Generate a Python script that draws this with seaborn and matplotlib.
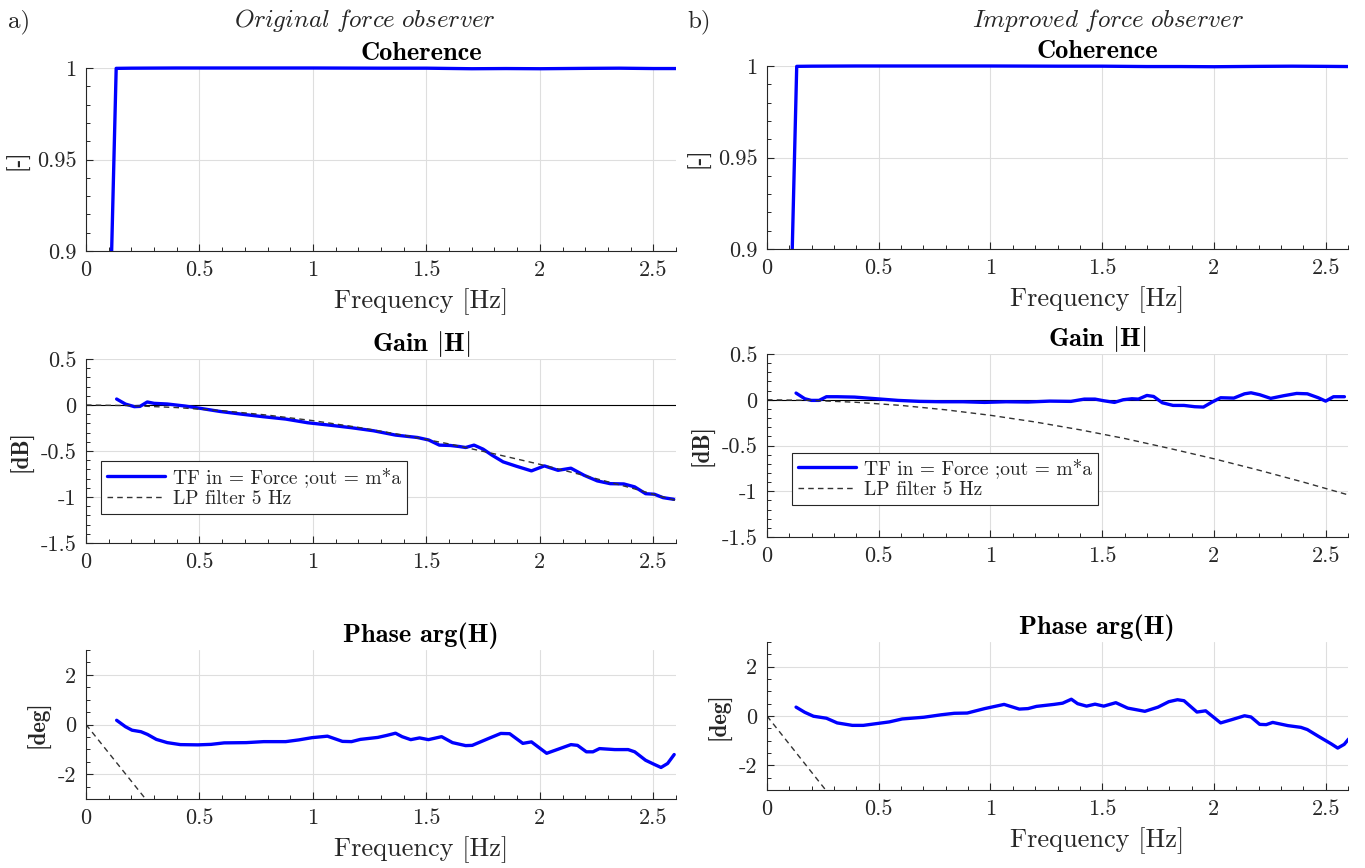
import numpy as np
import pandas as pd
import seaborn as sns
import matplotlib.pyplot as plt
from matplotlib.patches import Rectangle
from matplotlib.ticker import MultipleLocator, FuncFormatter

# values
coh_f = [0.109, 0.133, 0.20, 0.40, 0.70, 1.00, 1.30, 1.50, 1.70, 1.85, 2.00, 2.20, 2.35, 2.50, 2.60]
coh_orig = [0.88, 0.9998, 0.9999, 1.0, 1.0, 1.0, 0.9999, 0.9999, 0.9996, 0.9997, 0.9996, 0.9998, 0.9999, 0.9997, 0.9997]
coh_impr = [0.88, 0.9998, 0.9999, 1.0, 1.0, 1.0, 0.9999, 0.9999, 0.9997, 0.9997, 0.9996, 0.9998, 0.9999, 0.9998, 0.9997]

gain_orig_f = [0.135, 0.174, 0.213, 0.238, 0.27, 0.30, 0.358, 0.435, 0.503, 0.59, 0.687, 0.78, 0.88,
               0.977, 1.07, 1.17, 1.267, 1.364, 1.46, 1.51, 1.557, 1.605, 1.644, 1.673, 1.71, 1.75,
               1.789, 1.838, 1.896, 1.963, 2.02, 2.08, 2.137, 2.195, 2.253, 2.31, 2.37, 2.418, 2.466,
               2.505, 2.543, 2.59]
gain_orig = [0.065, 0.01, -0.018, -0.015, 0.033, 0.018, 0.011, -0.011, -0.036, -0.07, -0.10, -0.127,
             -0.153, -0.193, -0.218, -0.247, -0.28, -0.327, -0.353, -0.38, -0.436, -0.44, -0.451,
             -0.462, -0.436, -0.48, -0.545, -0.618, -0.665, -0.716, -0.662, -0.71, -0.687, -0.764,
             -0.825, -0.855, -0.858, -0.89, -0.964, -0.97, -1.007, -1.025]

gain_impr_f = [0.13, 0.169, 0.198, 0.233, 0.266, 0.314, 0.392, 0.489, 0.586, 0.683, 0.78, 0.877, 0.974,
               1.07, 1.168, 1.265, 1.36, 1.42, 1.468, 1.507, 1.555, 1.594, 1.633, 1.662, 1.70, 1.73,
               1.769, 1.817, 1.866, 1.914, 1.953, 1.992, 2.03, 2.089, 2.137, 2.166, 2.205, 2.254,
               2.312, 2.37, 2.418, 2.467, 2.50, 2.535, 2.584]
gain_impr = [0.073, 0.011, -0.007, -0.007, 0.033, 0.033, 0.029, 0.011, -0.007, -0.018, -0.022, -0.022,
             -0.029, -0.022, -0.025, -0.015, -0.018, 0.007, 0.007, -0.011, -0.029, 0.0, 0.011, 0.007,
             0.047, 0.036, -0.033, -0.062, -0.062, -0.076, -0.08, -0.025, 0.022, 0.018, 0.065, 0.076,
             0.055, 0.015, 0.044, 0.069, 0.065, 0.022, -0.015, 0.033, 0.033]

phase_orig_f = [0.135, 0.174, 0.203, 0.242, 0.271, 0.31, 0.358, 0.416, 0.493, 0.551, 0.609, 0.706, 0.783,
                0.88, 0.938, 0.996, 1.064, 1.13, 1.17, 1.209, 1.286, 1.325, 1.364, 1.393, 1.431, 1.47,
                1.509, 1.567, 1.615, 1.673, 1.702, 1.741, 1.78, 1.828, 1.867, 1.925, 1.963, 2.03, 2.079,
                2.137, 2.166, 2.205, 2.234, 2.263, 2.33, 2.389, 2.418, 2.466, 2.505, 2.534, 2.563, 2.592]
phase_orig = [0.17, -0.09, -0.23, -0.29, -0.40, -0.60, -0.73, -0.81, -0.82, -0.80, -0.74, -0.73, -0.69,
              -0.69, -0.62, -0.53, -0.47, -0.68, -0.69, -0.60, -0.52, -0.44, -0.35, -0.49, -0.61, -0.54,
              -0.61, -0.49, -0.73, -0.85, -0.84, -0.69, -0.54, -0.36, -0.37, -0.76, -0.70, -1.16, -1.00,
              -0.81, -0.84, -1.10, -1.10, -0.97, -1.01, -1.01, -1.10, -1.44, -1.61, -1.73, -1.57, -1.21]

phase_impr_f = [0.13, 0.169, 0.208, 0.266, 0.314, 0.382, 0.431, 0.489, 0.547, 0.605, 0.702, 0.78, 0.838,
                0.896, 0.974, 1.061, 1.129, 1.168, 1.206, 1.284, 1.323, 1.362, 1.39, 1.43, 1.468, 1.507,
                1.561, 1.614, 1.691, 1.75, 1.798, 1.837, 1.866, 1.924, 1.963, 2.03, 2.079, 2.137, 2.166,
                2.205, 2.234, 2.263, 2.331, 2.389, 2.418, 2.467, 2.525, 2.554, 2.583, 2.603]
phase_impr = [0.36, 0.15, -0.01, -0.09, -0.28, -0.38, -0.38, -0.31, -0.24, -0.12, -0.05, 0.05, 0.11,
              0.12, 0.30, 0.47, 0.28, 0.30, 0.39, 0.47, 0.52, 0.68, 0.50, 0.40, 0.48, 0.40, 0.54, 0.32,
              0.19, 0.36, 0.58, 0.66, 0.62, 0.16, 0.21, -0.28, -0.15, 0.01, -0.04, -0.34, -0.35, -0.26,
              -0.39, -0.46, -0.55, -0.82, -1.13, -1.30, -1.15, -0.93]

# 5 Hz low pass reference
lp_f = [0.0, 0.2, 0.4, 0.6, 0.8, 1.0, 1.2, 1.4, 1.6, 1.8, 2.0, 2.2, 2.4, 2.6]
lp_gain = [0.0, -0.007, -0.028, -0.062, -0.110, -0.170, -0.243, -0.328, -0.423, -0.531, -0.645,
           -0.769, -0.900, -1.039]
lp_phase_f = [0.0, 0.4]
lp_phase = [0.0, -4.57]

sns.set_style('ticks')
plt.rcParams['font.family'] = 'cmr10'
plt.rcParams['mathtext.fontset'] = 'cm'
plt.rcParams['axes.unicode_minus'] = False

DARK = '#262626'
W, H = 1365, 868


def box(x0, x1, y0, y1):
    return [x0 / W, 1 - y1 / H, (x1 - x0) / W, (y1 - y0) / H]


def style(ax, ylim, ymaj, ymin):
    ax.set_xlim(0, 2.6)
    ax.set_ylim(*ylim)
    ax.xaxis.set_major_locator(MultipleLocator(0.5))
    ax.xaxis.set_minor_locator(MultipleLocator(0.1))
    ax.yaxis.set_major_locator(MultipleLocator(ymaj))
    ax.yaxis.set_minor_locator(MultipleLocator(ymin))
    fmt = FuncFormatter(lambda v, p: f'{v:g}')
    ax.xaxis.set_major_formatter(fmt)
    ax.yaxis.set_major_formatter(fmt)
    ax.tick_params(which='both', direction='in', colors=DARK, labelsize=16, pad=7)
    ax.tick_params(which='major', length=5, width=0.8)
    ax.tick_params(which='minor', length=3, width=0.7)
    ax.grid(True, which='major', color='#dedede', lw=0.8)
    ax.set_axisbelow(True)
    sns.despine(ax=ax)
    for s in ['left', 'bottom']:
        ax.spines[s].set_color(DARK)
        ax.spines[s].set_linewidth(0.8)
    if ax.get_legend() is not None:
        ax.get_legend().remove()


def title(ax, txt):
    ax.set_title(txt, fontfamily='cmb10', fontsize=19, x=0.568, pad=6, color='black')


def ylab(ax, txt):
    ax.set_ylabel(txt, fontfamily='cmb10', fontsize=16.5, color=DARK, labelpad=5)


fig = plt.figure(figsize=(W / 100, H / 100), dpi=100)

cols = [
    dict(x=(86, 676), rows=[(68, 251), (359, 543), (650, 799)],
         coh=coh_orig, gf=gain_orig_f, g=gain_orig, pf=phase_orig_f, p=phase_orig, leg=(0.025, 0.158)),
    dict(x=(767, 1348), rows=[(66, 249), (354, 537), (642, 790)],
         coh=coh_impr, gf=gain_impr_f, g=gain_impr, pf=phase_impr_f, p=phase_impr, leg=(0.043, 0.175)),
]

for c in cols:
    x0, x1 = c['x']
    # coherence
    ax = fig.add_axes(box(x0, x1, *c['rows'][0]))
    sns.lineplot(x=coh_f, y=c['coh'], ax=ax, color='blue', linewidth=2.4)
    # let the line at 1 show its full width above the top edge
    ax.lines[-1].set_clip_path(Rectangle((0, 0), 1, 1.03, transform=ax.transAxes))
    style(ax, (0.9, 1.0), 0.05, 0.01)
    title(ax, 'Coherence')
    ax.set_xlabel('Frequency [Hz]', fontsize=19, color=DARK, x=0.568, labelpad=6)
    ylab(ax, '[-]')

    # gain
    ax = fig.add_axes(box(x0, x1, *c['rows'][1]))
    ax.axhline(0, color='black', lw=0.8, zorder=1.5)
    sns.lineplot(x=c['gf'], y=c['g'], ax=ax, color='blue', linewidth=2.4,
                 label='TF in = Force ;out = m*a')
    sns.lineplot(x=lp_f, y=lp_gain, ax=ax, color='0.2', linewidth=1.0,
                 linestyle=(0, (4, 3)), label='LP filter 5 Hz')
    style(ax, (-1.5, 0.5), 0.5, 0.1)
    title(ax, r'Gain $\mathbf{|H|}$')
    ax.set_xlabel('')
    ylab(ax, '[dB]')
    leg = ax.legend(loc='lower left', bbox_to_anchor=c['leg'], borderaxespad=0, fontsize=14,
                    frameon=True, fancybox=False, framealpha=1, edgecolor=DARK,
                    handlelength=3, borderpad=0.3, labelspacing=0.15, handletextpad=0.4)
    leg.get_frame().set_linewidth(0.8)

    # phase
    ax = fig.add_axes(box(x0, x1, *c['rows'][2]))
    sns.lineplot(x=c['pf'], y=c['p'], ax=ax, color='blue', linewidth=2.4)
    sns.lineplot(x=lp_phase_f, y=lp_phase, ax=ax, color='0.2', linewidth=1.0,
                 linestyle=(0, (4, 3)))
    style(ax, (-3, 3), 2, 0.5)
    title(ax, 'Phase arg(H)')
    ax.set_xlabel('Frequency [Hz]', fontsize=19, color=DARK, x=0.568, labelpad=6)
    ylab(ax, '[deg]')

fig.text(8 / W, 1 - 22 / H, 'a)', fontsize=18, ha='left', va='center')
fig.text(687 / W, 1 - 22 / H, 'b)', fontsize=18, ha='left', va='center')
fig.text(365 / W, 1 - 20 / H, r'$\mathit{Original\ force\ observer}$', fontsize=18,
         ha='center', va='center')
fig.text(1108 / W, 1 - 20 / H, r'$\mathit{Improved\ force\ observer}$', fontsize=18,
         ha='center', va='center')

fig.savefig('out.png', dpi=100)
